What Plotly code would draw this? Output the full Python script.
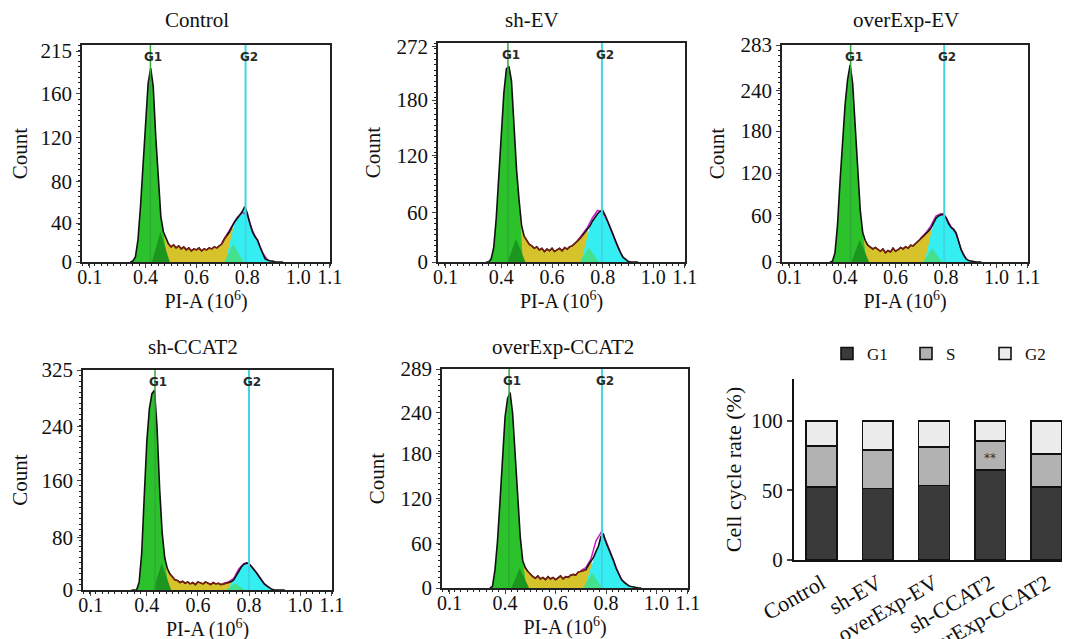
import plotly.graph_objects as go

W, H = 1070, 639
FONT = "Liberation Serif"

# ---------------- data ----------------
PANELS = ["Control", "sh-EV", "overExp-EV", "sh-CCAT2", "overExp-CCAT2"]

# PI-A channel (10^6) bin centres of the DNA-content histograms
HIST_X = [0.34, 0.35, 0.36, 0.37, 0.38, 0.39, 0.40, 0.41, 0.42, 0.43,
          0.44, 0.45, 0.46, 0.47, 0.48, 0.49, 0.50, 0.51, 0.52, 0.53,
          0.54, 0.55, 0.56, 0.57, 0.58, 0.59, 0.60, 0.61, 0.62, 0.63,
          0.64, 0.65, 0.66, 0.67, 0.68, 0.69, 0.70, 0.71, 0.72, 0.73,
          0.74, 0.75, 0.76, 0.77, 0.78, 0.79, 0.80, 0.81, 0.82, 0.83,
          0.84, 0.85, 0.86, 0.87, 0.88, 0.89, 0.90, 0.91, 0.92, 0.93,
          0.94]

COUNTS_CONTROL = [0, 1, 5, 22, 55, 95, 134, 177, 192, 174,
                  124, 78, 45, 30, 23, 18, 15, 17, 14, 16,
                  13, 15, 12, 14, 11, 13, 12, 14, 11, 13,
                  12, 14, 13, 15, 14, 16, 18, 23, 26, 30,
                  35, 40, 43, 46, 50, 55, 48, 38, 30, 25,
                  22, 15, 8, 3, 2, 1, 1, 0, 0, 0,
                  0]
COUNTS_SH_EV = [0, 0, 4, 18, 55, 105, 165, 210, 240, 243,
                225, 170, 115, 77, 45, 32, 27, 22, 20, 17,
                19, 15, 17, 13, 16, 14, 17, 13, 15, 17,
                14, 18, 16, 19, 20, 23, 25, 29, 33, 37,
                40, 45, 51, 56, 60, 63, 64, 58, 51, 43,
                35, 27, 19, 12, 6, 3, 1, 0, 0, 0,
                0]
COUNTS_OVEREXP_EV = [0, 1, 12, 48, 105, 160, 205, 238, 257, 233,
                     180, 115, 68, 38, 28, 22, 20, 17, 19, 16,
                     14, 17, 12, 15, 13, 18, 14, 16, 19, 17,
                     20, 18, 22, 21, 24, 27, 30, 33, 36, 40,
                     44, 50, 57, 60, 61, 63, 58, 50, 45, 43,
                     38, 27, 16, 9, 4, 2, 1, 0, 0, 0,
                     0]
COUNTS_SH_CCAT2 = [0, 0, 0, 12, 55, 140, 220, 268, 290, 295,
                   240, 150, 85, 48, 32, 24, 19, 15, 14, 11,
                   13, 10, 12, 9, 11, 8, 12, 10, 9, 12,
                   10, 8, 11, 9, 10, 8, 9, 10, 11, 12,
                   15, 21, 29, 34, 38, 40, 39, 35, 30, 25,
                   19, 14, 9, 6, 3, 1, 0, 0, 0, 0,
                   0]
COUNTS_OVEREXP_CCAT2 = [0, 2, 24, 62, 115, 170, 226, 250, 258, 230,
                        178, 120, 68, 36, 27, 22, 18, 15, 13, 16,
                        12, 14, 11, 15, 12, 14, 11, 13, 16, 12,
                        15, 14, 17, 18, 17, 21, 22, 23, 24, 30,
                        35, 40, 48, 55, 68, 71, 60, 52, 45, 36,
                        26, 18, 12, 8, 5, 3, 2, 1, 0, 0,
                        0]
COUNTS = [COUNTS_CONTROL, COUNTS_SH_EV, COUNTS_OVEREXP_EV,
          COUNTS_SH_CCAT2, COUNTS_OVEREXP_CCAT2]

# fitted model curve (magenta) around the G2 peak
MODEL_X = [0.70, 0.72, 0.74, 0.76, 0.78, 0.80, 0.82, 0.84, 0.86, 0.88]
MODEL_CONTROL = [19, 27, 36, 44, 49, 47, 31, 21, 9, 2]
MODEL_SH_EV = [26, 34, 43, 55, 64, 62, 50, 34, 18, 6]
MODEL_OVEREXP_EV = [31, 38, 47, 60, 63, 58, 46, 37, 16, 4]
MODEL_SH_CCAT2 = [10, 12, 17, 31, 39, 39, 30, 19, 9, 3]
MODEL_OVEREXP_CCAT2 = [23, 27, 38, 62, 73, 62, 45, 27, 12, 5]
MODELS = [MODEL_CONTROL, MODEL_SH_EV, MODEL_OVEREXP_EV,
          MODEL_SH_CCAT2, MODEL_OVEREXP_CCAT2]

# gate / fit component positions (PI-A, 10^6)
G1_POS = [0.419, 0.426, 0.422, 0.432, 0.416]
G2_POS = [0.793, 0.797, 0.793, 0.800, 0.784]
G1_FILL_END = 0.47
G1_FILL_BASE = 0.485
S_START = 0.44
S_FOLLOW_END = 0.74
S_BASE_END = 0.79
G2_START = 0.715
G2_FOLLOW_START = 0.75
S_RED_RANGE = [0.49, 0.72]
G1S_OVERLAP_X = [0.425, 0.458, 0.495]
G1S_OVERLAP_PEAK = [30, 29, 29, 39, 26]
SG2_OVERLAP_X = [0.71, 0.745, 0.785]
SG2_OVERLAP_PEAK = [18, 18, 18, 10, 20]

# axis labelling of the histograms
Y_TOP = [215, 272, 283, 325, 289]
Y_TICK_TEXT = [["0", "40", "80", "120", "160", "215"],
               ["0", "60", "120", "180", "272"],
               ["0", "60", "120", "180", "240", "283"],
               ["0", "80", "160", "240", "325"],
               ["0", "60", "120", "180", "240", "289"]]
Y_TICK_AT = [[0, 38.6, 79.3, 122.9, 166.5, 209],
             [0, 60.9, 131.7, 201.2, 268],
             [0, 60, 116, 170.8, 224, 283],
             [0, 78, 162, 242, 325],
             [0, 58.4, 118, 177.5, 232, 289]]
X_TICK_TEXT = ["0.1", "0.4", "0.6", "0.8", "1.0", "1.1"]
X_TICK_AT = [0.18, 0.4, 0.6, 0.8, 1.0, 1.124]
X_RANGE = [0.15, 1.125]

# stacked bar chart: cell cycle distribution (%)
BAR_GROUPS = ["Control", "sh-EV", "overExp-EV", "sh-CCAT2", "overExp-CCAT2"]
G1_PCT = [52.5, 51.5, 53.5, 64.5, 52.5]
S_PCT = [29.5, 27.5, 27.5, 21.0, 23.5]
G2_PCT = [18.0, 21.0, 19.0, 14.5, 24.0]

# ---------------- layout helpers ----------------
PANEL_BOX = [(82, 330, 45, 262), (438, 685, 43, 262), (782, 1028, 45, 262),
             (83, 332, 370, 590), (442, 688, 369, 588)]
TITLE_POS = [(197, 20), (532, 20), (906, 20), (193, 347), (563, 347)]
BAR_BOX = (794, 1070, 379, 560)
PAGE_OFFSET = 8  # the page body margin in the browser


def px(x):
    return (x - PAGE_OFFSET) / W


def py(y):
    return 1 - (y - PAGE_OFFSET) / H


C_GREEN = "#2cc22c"
C_DKGREEN = "#1c961e"
C_YELLOW = "#d6c22a"
C_CYAN = "#35eef2"
C_LTGREEN = "#45e08e"
C_MAGENTA = "#c81ec8"

fig = go.Figure()
annotations = []
shapes = []

for i, name in enumerate(PANELS):
    sfx = "" if i == 0 else str(i + 1)
    xa, ya = f"x{sfx}", f"y{sfx}"
    cnt = COUNTS[i]
    pts = list(zip(HIST_X, cnt))

    # S phase (yellow)
    sx = [S_START] + [x for x, c in pts if G1_FILL_END <= x <= S_FOLLOW_END] + [S_BASE_END]
    sy = [0] + [c for x, c in pts if G1_FILL_END <= x <= S_FOLLOW_END] + [0]
    fig.add_trace(go.Scatter(x=sx, y=sy, xaxis=xa, yaxis=ya, mode="lines",
                             line=dict(width=0, color=C_YELLOW), fill="toself",
                             fillcolor=C_YELLOW, showlegend=False, hoverinfo="skip"))
    # G2 (cyan)
    gx = [G2_START] + [x for x, c in pts if x >= G2_FOLLOW_START]
    gy = [0] + [c for x, c in pts if x >= G2_FOLLOW_START]
    fig.add_trace(go.Scatter(x=gx, y=gy, xaxis=xa, yaxis=ya, mode="lines",
                             line=dict(width=0, color=C_CYAN), fill="toself",
                             fillcolor=C_CYAN, showlegend=False, hoverinfo="skip"))
    # G1 (green)
    g1x = [x for x, c in pts if x <= G1_FILL_END] + [G1_FILL_BASE]
    g1y = [c for x, c in pts if x <= G1_FILL_END] + [0]
    fig.add_trace(go.Scatter(x=g1x, y=g1y, xaxis=xa, yaxis=ya, mode="lines",
                             line=dict(width=0, color=C_GREEN), fill="toself",
                             fillcolor=C_GREEN, showlegend=False, hoverinfo="skip"))
    # overlaps
    fig.add_trace(go.Scatter(x=G1S_OVERLAP_X, y=[0, G1S_OVERLAP_PEAK[i], 0], xaxis=xa, yaxis=ya,
                             mode="lines", line=dict(width=0, color=C_DKGREEN), fill="toself",
                             fillcolor=C_DKGREEN, showlegend=False, hoverinfo="skip"))
    fig.add_trace(go.Scatter(x=SG2_OVERLAP_X, y=[0, SG2_OVERLAP_PEAK[i], 0], xaxis=xa, yaxis=ya,
                             mode="lines", line=dict(width=0, color=C_LTGREEN), fill="toself",
                             fillcolor=C_LTGREEN, showlegend=False, hoverinfo="skip"))
    # model (magenta)
    fig.add_trace(go.Scatter(x=MODEL_X, y=MODELS[i], xaxis=xa, yaxis=ya, mode="lines",
                             line=dict(width=1.5, color=C_MAGENTA), showlegend=False,
                             hoverinfo="skip"))
    # histogram (black)
    fig.add_trace(go.Scatter(x=HIST_X, y=cnt, xaxis=xa, yaxis=ya, mode="lines",
                             line=dict(width=1.6, color="#111111"), showlegend=False))
    # S-region trace in dark red
    rx = [x for x, c in pts if S_RED_RANGE[0] <= x <= S_RED_RANGE[1]]
    ry = [c for x, c in pts if S_RED_RANGE[0] <= x <= S_RED_RANGE[1]]
    fig.add_trace(go.Scatter(x=rx, y=ry, xaxis=xa, yaxis=ya, mode="lines",
                             line=dict(width=1.2, color="#8a1c10"), showlegend=False,
                             hoverinfo="skip"))

    # gate lines
    shapes.append(dict(type="line", xref=xa, yref=f"{ya} domain", x0=G1_POS[i], x1=G1_POS[i],
                       y0=0, y1=1, line=dict(color="#2fa83a", width=1.5)))
    shapes.append(dict(type="line", xref=xa, yref=f"{ya} domain", x0=G2_POS[i], x1=G2_POS[i],
                       y0=0, y1=1, line=dict(color="#3fd6e2", width=2)))
    for lbl, pos in (("G1", G1_POS[i]), ("G2", G2_POS[i])):
        annotations.append(dict(text=f"<b>{lbl}</b>", xref=xa, yref=f"{ya} domain", x=pos,
                                y=0.945, showarrow=False, xshift=3,
                                xanchor="center", yanchor="middle",
                                font=dict(family="DejaVu Sans", size=12, color="#2a2a2a")))

    # panel title
    tx, ty = TITLE_POS[i]
    annotations.append(dict(text=name, xref="paper", yref="paper", x=px(tx), y=py(ty),
                            xanchor="center", yanchor="middle", showarrow=False,
                            font=dict(family=FONT, size=21, color="#111")))

    l, r, t, b = PANEL_BOX[i]
    ax_common = dict(showline=True, mirror=True, linecolor="#222", linewidth=1.5,
                     showgrid=False, zeroline=False, ticks="outside", automargin=False)
    fig.update_layout(**{
        f"xaxis{sfx}": dict(domain=[px(l), px(r)], anchor=ya, range=X_RANGE,
                            tickmode="array", tickvals=X_TICK_AT, ticktext=X_TICK_TEXT,
                            ticklen=4, tickwidth=1.2, tickangle=0, ticklabelstandoff=-8,
                            tickfont=dict(family=FONT, size=20, color="#111"),
                            minor=dict(ticks="outside", ticklen=2, tickmode="linear",
                                       tick0=0, dtick=0.025, tickcolor="#222"),
                            title=dict(text="PI-A (10<sup>6</sup>)", standoff=0,
                                       font=dict(family=FONT, size=20, color="#111")),
                            **ax_common),
        f"yaxis{sfx}": dict(domain=[py(b), py(t)], anchor=xa, range=[0, Y_TOP[i]],
                            tickmode="array", tickvals=Y_TICK_AT[i], ticktext=Y_TICK_TEXT[i],
                            ticklen=4, tickwidth=1.2, tickangle=0,
                            tickfont=dict(family=FONT, size=21, color="#111"),
                            minor=dict(ticks="outside", ticklen=2, tickmode="linear",
                                       tick0=0, dtick=Y_TOP[i] / 40, tickcolor="#222"),
                            title=dict(text="Count", standoff=10,
                                       font=dict(family=FONT, size=21, color="#111")),
                            **ax_common),
    })

# ---------------- stacked bar chart ----------------
bar_style = dict(xaxis="x6", yaxis="y6", width=0.55)
fig.add_trace(go.Bar(x=BAR_GROUPS, y=G1_PCT, name="G1",
                     marker=dict(color="#3a3a3a", line=dict(color="#111", width=1.6)), **bar_style))
fig.add_trace(go.Bar(x=BAR_GROUPS, y=S_PCT, name="S",
                     marker=dict(color="#b2b2b2", line=dict(color="#111", width=1.6)), **bar_style))
fig.add_trace(go.Bar(x=BAR_GROUPS, y=G2_PCT, name="G2",
                     marker=dict(color="#ececec", line=dict(color="#111", width=1.6)), **bar_style))

annotations.append(dict(text="**", xref="x6", yref="y6", x=BAR_GROUPS[3],
                        y=G1_PCT[3] + S_PCT[3] / 2 - 2, showarrow=False,
                        xanchor="center", yanchor="middle",
                        font=dict(family="DejaVu Sans", size=12, color="#333")))

bl, br, bt, bb = BAR_BOX
fig.update_layout(
    xaxis6=dict(domain=[px(bl), px(br)], anchor="y6", range=[-0.49, 4.42], type="category",
                showline=True, linecolor="#111", linewidth=2, ticks="", tickangle=-30,
                showgrid=False, zeroline=False, automargin=False,
                tickfont=dict(family=FONT, size=22, color="#111")),
    yaxis6=dict(domain=[py(bb), py(bt)], anchor="x6", range=[0, 130],
                tickvals=[0, 50, 100], showline=True, linecolor="#111", linewidth=2,
                ticks="outside", ticklen=5, tickwidth=1.5, showgrid=False, zeroline=False,
                automargin=False,
                tickfont=dict(family=FONT, size=21, color="#111"),
                title=dict(text="Cell cycle rate (%)", standoff=4,
                           font=dict(family=FONT, size=22, color="#111"))),
    barmode="stack",
    legend=dict(orientation="h", x=px(827), y=py(336), xanchor="left", yanchor="top",
                traceorder="normal", entrywidth=34, itemwidth=30,
                font=dict(family=FONT, size=17, color="#111"), bgcolor="rgba(0,0,0,0)"),
    showlegend=True,
)

fig.update_layout(width=W, height=H, margin=dict(l=0, r=0, t=0, b=0, autoexpand=False),
                  paper_bgcolor="white", plot_bgcolor="white",
                  annotations=annotations, shapes=shapes,
                  font=dict(family=FONT))

fig.write_html("out.html")
